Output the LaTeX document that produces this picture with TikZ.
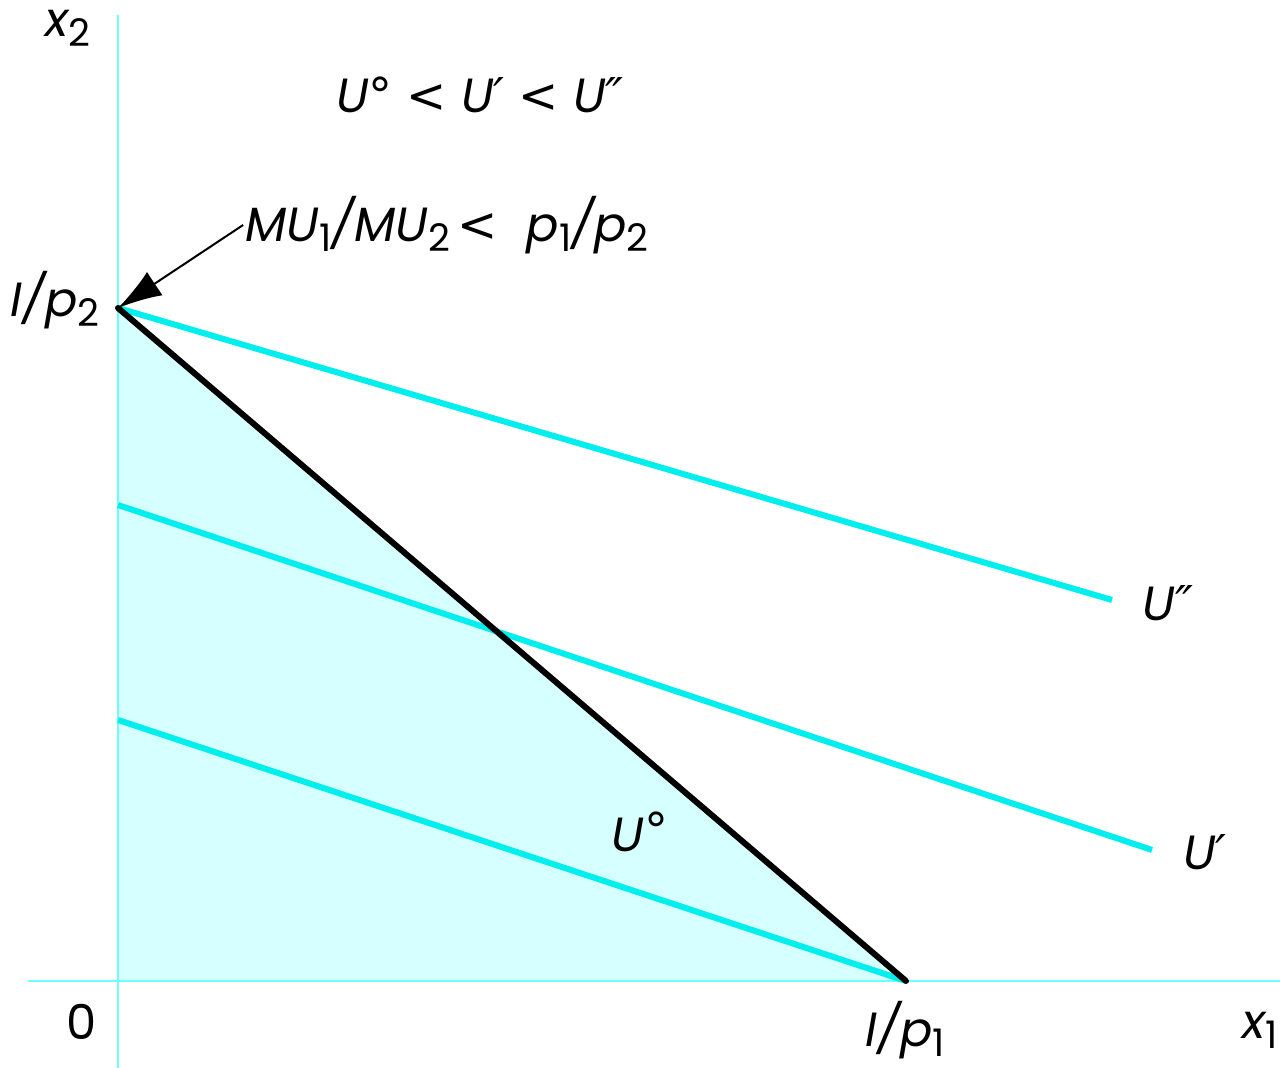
\documentclass[tikz,border=0pt]{standalone}
\usepackage{fontspec}
\setmainfont{Poppins}
\newfontfamily\symfont{DejaVu Sans}
\usepackage{tikz}
\usetikzlibrary{arrows.meta, positioning}

\definecolor{linecyan}{RGB}{0,238,238}
\definecolor{axiscyan}{RGB}{110,255,255}
\definecolor{fillcyan}{RGB}{214,255,255}

\newcommand{\pr}{{\symfont\itshape ′}}
\newcommand{\dpr}{{\symfont\itshape ″}}
\newcommand{\dg}{{\symfont\upshape °}}
\newcommand{\lt}{{\symfont\upshape <}}
\newcommand{\sub}[1]{\raisebox{-5pt}{\fontsize{19}{22}\selectfont\upshape #1}}

\begin{document}
\begin{tikzpicture}[x=0.5pt, y=-0.5pt,
    lbl/.style={font=\fontsize{24}{28}\selectfont\itshape, inner sep=1pt},
    indiff/.style={linecyan, line width=3pt},
    budget/.style={black, line width=3pt, line cap=round}]
    \useasboundingbox (0,0) rectangle (1280,1068);

    % corner points
    \coordinate (O) at (118,981);
    \coordinate (A) at (118,308);
    \coordinate (B) at (906,981);

    \fill[fillcyan] (O) -- (A) -- (B) -- cycle;
    \draw[axiscyan, line width=1pt] (28,981) -- (1280,981);
    \draw[axiscyan, line width=1pt] (118,15) -- (118,1068);

    % indifference lines
    \coordinate (u2) at (1112,600);
    \coordinate (u1s) at (118,505);
    \coordinate (u1) at (1152,850);
    \coordinate (u0s) at (118,720);
    \draw[indiff] (A) -- (u2);
    \draw[indiff] (u1s) -- (u1);
    \draw[indiff] (u0s) -- (B);

    \draw[budget] (A) -- (B);

    % labels
    \node[lbl] (x2) at (68,28) {x\sub{2}};
    \node[lbl] (x1) at (1260,1030) {x\sub{1}};
    \node[lbl, font=\fontsize{24}{28}\selectfont] (zero) at (82,1022) {0};
    \node[lbl] (Ip2) at (55,300) {I/p\sub{2}};
    \node[lbl] (Ip1) at (905,1030) {I/p\sub{1}};
    \node[lbl] (U2) at (1168,603) {U\dpr};
    \node[lbl] (U1) at (1205,852) {U\pr};
    \node[lbl] (U0) at (640,832) {U\raisebox{2pt}{\dg}};
    \node[lbl] (order) at (480,95) {U\dg{} \lt{} U\pr{} \lt{} U\dpr};
    \node[lbl] (mrs) at (447,225) {MU\sub{1}/MU\sub{2}\,\lt\ \ p\sub{1}/p\sub{2}};

    \draw[-{Latex[length=22pt, width=14pt]}, line width=1pt] (mrs.west) -- (A);
\end{tikzpicture}
\end{document}
